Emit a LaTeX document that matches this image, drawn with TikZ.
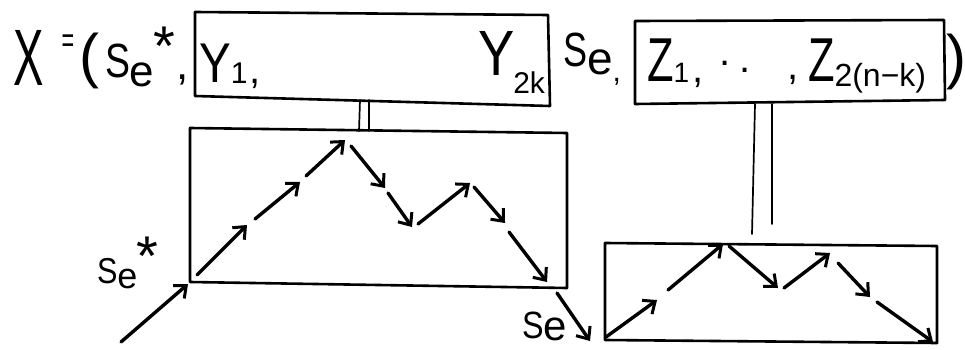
\documentclass[tikz,border=0pt]{standalone}
\usepackage{fontspec}
\usepackage{graphicx}
\setmainfont{Liberation Sans}
\usetikzlibrary{arrows.meta}
\newcommand\fsz[1]{\fontsize{#1}{#1}\selectfont}
\tikzset{
  pen/.style={line width=2.6pt, line cap=round, line join=round},
  dbl/.style={line width=1.7pt, line cap=round},
  arr/.style={line width=3.4pt, line cap=round,
    -{Straight Barb[length=10pt,width=17pt,line width=3pt]}},
  hw/.style={inner sep=0pt, outer sep=0pt},
  hwb/.style={inner sep=0pt, outer sep=0pt, anchor=base west},
}
\begin{document}
\begin{tikzpicture}[x=1pt,y=-1pt]
\useasboundingbox (0,0) rectangle (965,350);

% ---------- top line text ----------
\node[hwb,font=\fsz{80}] (tX) at (13,86) {\scalebox{0.57}[1]{X}};
\node[hw,font=\fsz{36}] (teq) at (68,44) {\scalebox{0.6}[1]{=}};
\node[hw,font=\fsz{60}] (tlp) at (89,61) {(};
\node[hwb,font=\fsz{48}] (tSe1) at (105,78)
  {\scalebox{0.78}[1]{S}\raisebox{-9pt}{\fsz{44}e}\hspace{-1pt}\raisebox{12pt}{\fsz{56}*}};
\node[hw,font=\fsz{44}] (tc1) at (183,80) {,};

\node[hwb,font=\fsz{56}] (tY1) at (199,83)
  {\scalebox{0.85}[1]{Y}\raisebox{-1pt}{\fsz{30}1\hspace{2pt}\fsz{40},}};

\node[hwb,font=\fsz{64}] (tY2) at (478,76)
  {\scalebox{0.85}[1]{Y}\hspace{-1pt}\raisebox{-18pt}{\fsz{30}2k}};

\node[hwb,font=\fsz{48}] (tSe2) at (563,67)
  {\scalebox{0.75}[1]{S}\raisebox{-8pt}{\fsz{46}e}\raisebox{-14pt}{\fsz{30},}};

\node[hwb,font=\fsz{62}] (tZ1) at (647,82)
  {\scalebox{0.7}[1]{Z}\raisebox{-1pt}{\fsz{28}1\hspace{3pt}\fsz{40},}};
\node[hw,font=\fsz{40}] (td1) at (725,63) {.};
\node[hw,font=\fsz{40}] (td2) at (745,70) {.};
\node[hw,font=\fsz{40}] (tc5) at (793,80) {,};
\node[hwb,font=\fsz{62}] (tZ2) at (808,82)
  {\scalebox{0.7}[1]{Z}\raisebox{-5pt}{\fsz{32}2(n−k)}};
\node[hw,font=\fsz{60}] (trp) at (956,62) {)};

% ---------- top boxes ----------
\coordinate (b1a) at (195,12);
\coordinate (b1b) at (548,15);
\coordinate (b1c) at (550,106);
\coordinate (b1d) at (195,96);
\draw[pen] (b1a) -- (b1b) -- (b1c) -- (b1d) -- cycle;

\coordinate (b2a) at (635,21);
\coordinate (b2b) at (944,20);
\coordinate (b2c) at (945,100);
\coordinate (b2d) at (635,104);
\draw[pen] (b2a) -- (b2b) -- (b2c) -- (b2d) -- cycle;

% ---------- equality links ----------
\coordinate (e1a) at (360,100); \coordinate (e1b) at (359,131);
\coordinate (e2a) at (369,100); \coordinate (e2b) at (369,131);
\draw[dbl] (e1a) -- (e1b);
\draw[dbl] (e2a) -- (e2b);
\coordinate (e3a) at (755,104); \coordinate (e3b) at (752,234);
\coordinate (e4a) at (772,104); \coordinate (e4b) at (772,224);
\draw[dbl] (e3a) -- (e3b);
\draw[dbl] (e4a) -- (e4b);

% ---------- lower box A ----------
\coordinate (bAa) at (190,128);
\coordinate (bAb) at (567,133);
\coordinate (bAc) at (567,288);
\coordinate (bAd) at (190,282);
\draw[pen] (bAa) -- (bAb) -- (bAc) -- (bAd) -- cycle;

% ---------- lower box B ----------
\coordinate (bBa) at (605,243);
\coordinate (bBb) at (937,246);
\coordinate (bBc) at (937,343);
\coordinate (bBd) at (605,340);
\draw[pen] (bBa) -- (bBb) -- (bBc) -- (bBd) -- cycle;

% ---------- path in box A ----------
\coordinate (in0) at (121,342);  \coordinate (in1) at (188,284);
\coordinate (a1s) at (197,275);  \coordinate (a1e) at (247,225);
\coordinate (a2s) at (255,219);  \coordinate (a2e) at (300,182);
\coordinate (a3s) at (306,176);  \coordinate (a3e) at (345,140);
\coordinate (a4s) at (351,146);  \coordinate (a4e) at (385,188);
\coordinate (a5s) at (388,193);  \coordinate (a5e) at (412,227);
\coordinate (a6s) at (418,224);  \coordinate (a6e) at (470,183);
\coordinate (a7s) at (474,187);  \coordinate (a7e) at (505,223);
\coordinate (a8s) at (509,232);  \coordinate (a8e) at (547,282);
\coordinate (o0) at (557,293);   \coordinate (o1) at (590,341);
\draw[arr] (in0) -- (in1);
\draw[arr] (a1s) -- (a1e);
\draw[arr] (a2s) -- (a2e);
\draw[arr] (a3s) -- (a3e);
\draw[arr] (a4s) -- (a4e);
\draw[arr] (a5s) -- (a5e);
\draw[arr] (a6s) -- (a6e);
\draw[arr] (a7s) -- (a7e);
\draw[arr] (a8s) -- (a8e);
\draw[arr] (o0) -- (o1);

% ---------- path in box B ----------
\coordinate (b1s) at (606,337);  \coordinate (b1e) at (657,300);
\coordinate (b2s) at (668,290);  \coordinate (b2e) at (723,244);
\coordinate (b3s) at (729,246);  \coordinate (b3e) at (778,288);
\coordinate (b4s) at (784,288);  \coordinate (b4e) at (830,253);
\coordinate (b5s) at (838,263);  \coordinate (b5e) at (870,297);
\coordinate (b6s) at (877,302);  \coordinate (b6e) at (933,342);
\draw[arr] (b1s) -- (b1e);
\draw[arr] (b2s) -- (b2e);
\draw[arr] (b3s) -- (b3e);
\draw[arr] (b4s) -- (b4e);
\draw[arr] (b5s) -- (b5e);
\draw[arr] (b6s) -- (b6e);

% ---------- lower labels ----------
\node[hwb,font=\fsz{36}] (lSe1) at (97,283)
  {\scalebox{0.85}[1]{S}\raisebox{-5pt}{\fsz{36}e}\hspace{-1pt}\raisebox{8pt}{\fsz{56}*}};
\node[hwb,font=\fsz{38}] (lSe2) at (522,338)
  {\scalebox{0.85}[1]{S}\raisebox{-2pt}{\fsz{42}e}};
\end{tikzpicture}
\end{document}
